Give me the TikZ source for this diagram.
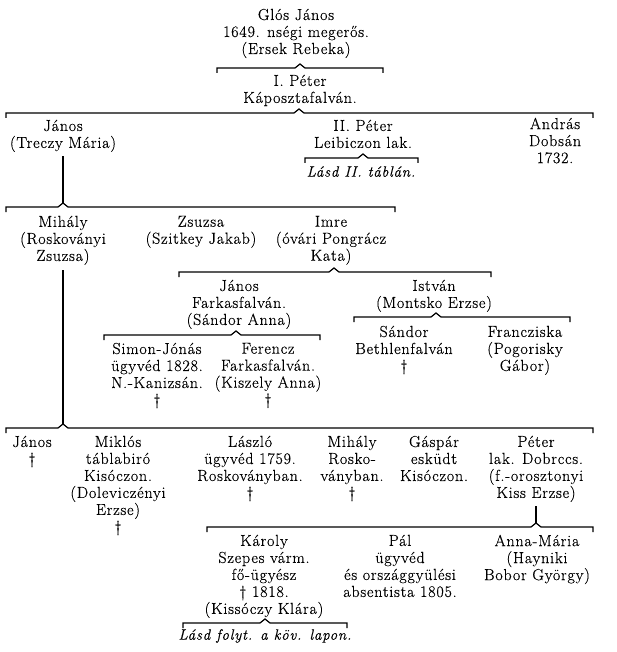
\documentclass[tikz,border=0pt]{standalone}
\usepackage{fontspec}
\setmainfont{Latin Modern Roman}[FakeBold=0.4, LetterSpace=5]
\newcommand\fs{\fontsize{16}{17}\selectfont}
\newcommand\fsi{\fontsize{15}{17}\selectfont\itshape}
\newcommand\famb[5]{%
 \coordinate (#1-l) at (#3,#2);
 \coordinate (#1-r) at (#4,#2);
 \coordinate (#1-p) at (#5,#2-4);
 \draw[brk] (#3,#2+5) -- (#1-l) -- (#5-5,#2) -- (#1-p) -- (#5+5,#2) -- (#1-r) -- (#4,#2+5);
}
\tikzset{
 pers/.style={anchor=north, yshift=7.4pt, align=center, inner sep=0pt, font=\fs, execute at begin node=\strut},
 brk/.style={line width=1.2pt, line join=miter}
}
\begin{document}
\begin{tikzpicture}[x=1pt,y=-1pt]
\fill[white] (0,0) rectangle (616,652);
\useasboundingbox (0,0) rectangle (616,652);
\node[pers] (glos) at (296,16) {Glós János\\1649. nségi megerős.\\(Ersek Rebeka)};
\famb{b1}{68}{217}{383}{300}
\node[pers] (peter1) at (300,82) {I. Péter\\Káposztafalván.};
\famb{b2}{113}{6}{593}{299}
\node[pers] (janos1) at (63,127) {János\\(Treczy Mária)};
\node[pers] (peter2) at (363,127) {II. Péter\\Leibiczon lak.};
\famb{b3}{158}{305}{418}{363}
\node[pers, font=\fsi] (lasd2) at (361,172) {Lásd II. táblán.};
\node[pers] (andras) at (555,125) {András\\Dobsán\\1732.};
\famb{b4}{207}{6}{395}{63}
\draw[brk] ([yshift=-3pt]janos1.south -| b4-p) -- (b4-p);
\node[pers] (mihaly) at (63,223) {Mihály\\(Roskoványi\\Zsuzsa)};
\node[pers] (zsuzsa) at (201,223) {Zsuzsa\\(Szitkey Jakab)};
\node[pers] (imre) at (331,223) {Imre\\(óvári Pongrácz\\Kata)};
\famb{b5}{272}{179}{491}{334}
\node[pers] (janos2) at (239,287) {János\\Farkasfalván.\\(Sándor Anna)};
\node[pers] (istvan) at (434,287) {István\\(Montsko Erzse)};
\famb{b6}{335}{104}{320}{236}
\node[pers] (simon) at (157,350) {Simon-Jónás\\ügyvéd 1828.\\N.-Kanizsán.\\†};
\node[pers] (ferencz) at (268,350) {Ferencz\\Farkasfalván.\\(Kiszely Anna)\\†};
\famb{b7}{317}{354}{570}{436}
\node[pers] (sandor) at (404,333) {Sándor\\Bethlenfalván\\†};
\node[pers] (franc) at (525,333) {Francziska\\(Pogorisky\\Gábor)};
\famb{b8}{428}{6}{593}{63}
\draw[brk] ([yshift=-4pt]mihaly.south -| b8-p) -- (b8-p);
\node[pers] (janos3) at (32,443) {János\\†};
\node[pers] (miklos) at (118,443) {Miklós\\táblabiró\\Kisóczon.\\(Doleviczényi\\Erzse)\\†};
\node[pers] (laszlo) at (250,443) {László\\ügyvéd 1759.\\Roskoványban.\\†};
\node[pers] (mihaly2) at (352,443) {Mihály\\Rosko-\\ványban.\\†};
\node[pers] (gaspar) at (434,443) {Gáspár\\esküdt\\Kisóczon.};
\node[pers] (peter3) at (536,443) {Péter\\lak. Dobrccs.\\(f.-orosztonyi\\Kiss Erzse)};
\famb{b9}{527}{207}{593}{536}
\draw[brk] ([yshift=-3pt]peter3.south -| b9-p) -- (b9-p);
\node[pers] (karoly) at (264,542) {Károly\\Szepes várm.\\fő-ügyész\\† 1818.\\(Kissóczy Klára)};
\node[pers] (pal) at (400,542) {Pál\\ügyvéd\\és országgyülési\\absentista 1805.};
\node[pers] (anna) at (537,542) {Anna-Mária\\(Hayniki\\Bobor György)};
\famb{b10}{623}{183}{347}{265}
\node[pers, font=\fsi] (lasd3) at (265,635) {Lásd folyt. a köv. lapon.};
\end{tikzpicture}
\end{document}
